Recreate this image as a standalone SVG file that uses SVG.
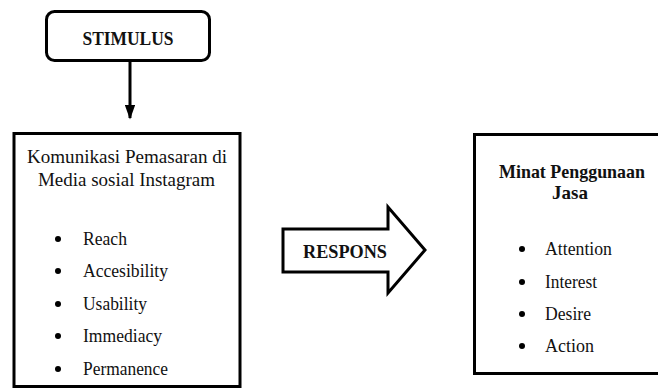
<svg xmlns="http://www.w3.org/2000/svg" width="658" height="389" viewBox="0 0 658 389">
  <defs>
    <style>
      .box { fill: #ffffff; stroke: #000000; stroke-width: 3; }
      text { font-family: 'Liberation Serif', 'Times New Roman', Times, serif; fill: #111111; }
      .b { font-weight: bold; }
      .bul { fill: #000000; }
      .conn { stroke: #000000; stroke-width: 3; fill: none; }
    </style>
    <marker id="ah" viewBox="0 0 10 10" refX="9" refY="5" markerWidth="5" markerHeight="3.6" orient="auto" markerUnits="strokeWidth" preserveAspectRatio="none">
      <path d="M0,0 L10,5 L0,10 z" fill="#000000"/>
    </marker>
  </defs>
  <rect width="658" height="389" fill="#ffffff"/>

  <g id="stimulus">
    <rect class="box" x="46.5" y="11.5" width="163" height="49" rx="8" ry="8"/>
    <text class="b" font-family="Liberation Serif, serif" x="128" y="45" font-size="19" text-anchor="middle" textLength="91" lengthAdjust="spacingAndGlyphs">STIMULUS</text>
  </g>

  <g id="connectors">
    <line class="conn" x1="130" y1="61" x2="130" y2="118" marker-end="url(#ah)"/>
  </g>

  <g id="komunikasi" font-family="Liberation Serif, serif">
    <rect class="box" x="14" y="133.5" width="226" height="253"/>
    <text x="127" y="163" font-size="19" text-anchor="middle" textLength="200" lengthAdjust="spacingAndGlyphs">Komunikasi Pemasaran di</text>
    <text x="126.5" y="186" font-size="19" text-anchor="middle" textLength="177" lengthAdjust="spacingAndGlyphs">Media sosial Instagram</text>
    <circle class="bul" cx="58" cy="239" r="3"/>
    <circle class="bul" cx="58" cy="271" r="3"/>
    <circle class="bul" cx="58" cy="304" r="3"/>
    <circle class="bul" cx="58" cy="336" r="3"/>
    <circle class="bul" cx="58" cy="369" r="3"/>
    <text x="83" y="245" font-size="18" textLength="44" lengthAdjust="spacingAndGlyphs">Reach</text>
    <text x="83" y="277" font-size="18" textLength="85" lengthAdjust="spacingAndGlyphs">Accesibility</text>
    <text x="83" y="310" font-size="18" textLength="64" lengthAdjust="spacingAndGlyphs">Usability</text>
    <text x="83" y="342" font-size="18" textLength="79" lengthAdjust="spacingAndGlyphs">Immediacy</text>
    <text x="83" y="375" font-size="18" textLength="85" lengthAdjust="spacingAndGlyphs">Permanence</text>
  </g>

  <g id="respons" font-family="Liberation Serif, serif">
    <polygon class="box" points="283,229 388,229 388,207 425,250 388,293 388,272 283,272"/>
    <text class="b" x="345" y="258" font-size="19" text-anchor="middle" textLength="84" lengthAdjust="spacingAndGlyphs">RESPONS</text>
  </g>

  <g id="minat" font-family="Liberation Serif, serif">
    <rect class="box" x="474.5" y="134.5" width="190" height="239"/>
    <text class="b" x="572" y="178" font-size="19" text-anchor="middle" textLength="146" lengthAdjust="spacingAndGlyphs">Minat Penggunaan</text>
    <text class="b" x="570" y="199" font-size="19" text-anchor="middle" textLength="36" lengthAdjust="spacingAndGlyphs">Jasa</text>
    <circle class="bul" cx="522" cy="249" r="3"/>
    <circle class="bul" cx="522" cy="282" r="3"/>
    <circle class="bul" cx="522" cy="314" r="3"/>
    <circle class="bul" cx="522" cy="346" r="3"/>
    <text x="545" y="255" font-size="18" textLength="67" lengthAdjust="spacingAndGlyphs">Attention</text>
    <text x="545" y="288" font-size="18" textLength="52" lengthAdjust="spacingAndGlyphs">Interest</text>
    <text x="545" y="320" font-size="18" textLength="46" lengthAdjust="spacingAndGlyphs">Desire</text>
    <text x="545" y="352" font-size="18" textLength="49" lengthAdjust="spacingAndGlyphs">Action</text>
  </g>
</svg>
